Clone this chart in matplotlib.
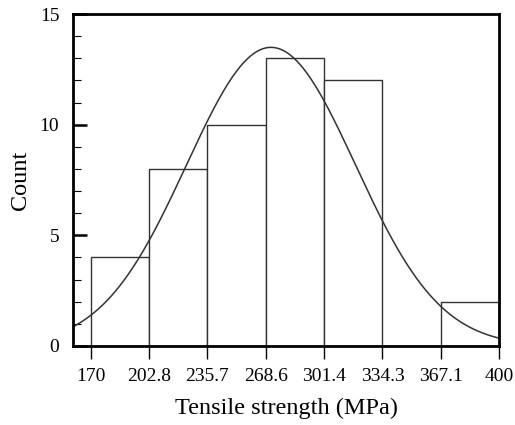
import numpy as np
import matplotlib.pyplot as plt
from matplotlib.ticker import MultipleLocator

plt.rcParams['font.family'] = ['Liberation Serif', 'DejaVu Serif']

# histogram bins and counts
bin_edges = [170, 202.8, 235.7, 268.6, 301.4, 334.3, 367.1, 400]
counts = [4, 8, 10, 13, 12, 0, 2]
tick_labels = ['170', '202.8', '235.7', '268.6', '301.4', '334.3', '367.1', '400']

# fitted normal curve parameters (estimated)
fit_mean = 271.5
fit_std = 47.6

fig = plt.figure(figsize=(5.15, 4.25), dpi=100)
ax = fig.add_axes([0.142, 0.186, 0.827, 0.781])

widths = np.diff(bin_edges)
ax.bar(bin_edges[:-1], counts, width=widths, align='edge',
       facecolor='white', edgecolor='#333333', linewidth=1.0, zorder=2)

x = np.linspace(160, 400, 400)
bw = widths.mean()
y = sum(counts) * bw / (fit_std * np.sqrt(2 * np.pi)) * np.exp(-0.5 * ((x - fit_mean) / fit_std) ** 2)
ax.plot(x, y, color='#333333', linewidth=1.1, zorder=3)

ax.set_xlim(160, 400)
ax.set_ylim(0, 15)
ax.set_xticks(bin_edges)
ax.set_xticklabels(tick_labels)
ax.set_yticks([0, 5, 10, 15])
ax.yaxis.set_minor_locator(MultipleLocator(1))

ax.tick_params(axis='x', direction='out', length=9, width=1.0, pad=7, labelsize=14)
ax.tick_params(axis='y', which='major', direction='in', length=10, width=1.8, pad=10, labelsize=14)
ax.tick_params(axis='y', which='minor', direction='in', length=6, width=0.8)

for s in ax.spines.values():
    s.set_linewidth(2.0)
    s.set_zorder(4)

ax.set_xlabel('Tensile strength (MPa)', fontsize=17.5, labelpad=9)
ax.set_ylabel('Count', fontsize=17.5, labelpad=6)

fig.savefig('out.png', dpi=100)
